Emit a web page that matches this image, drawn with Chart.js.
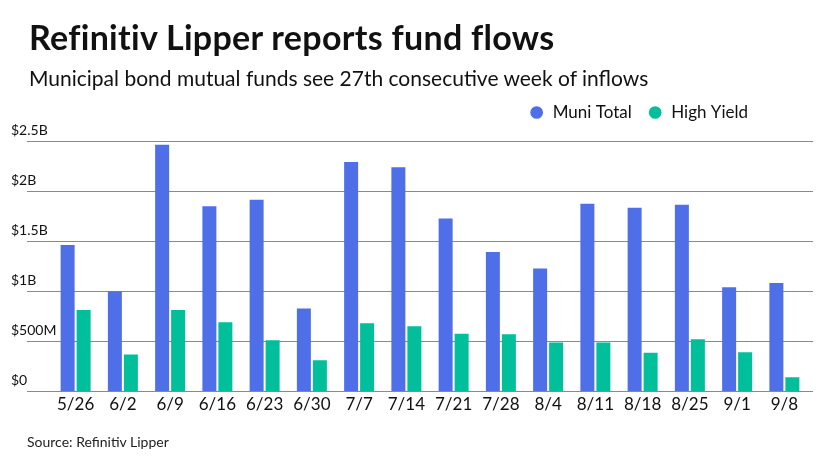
<!DOCTYPE html>
<html>
<head>
<meta charset="utf-8">
<script src="https://cdn.jsdelivr.net/npm/chart.js@4"></script>
<style>
  html, body { margin: 0; padding: 0; background: #fff; }
  #wrap { position: relative; width: 840px; height: 472px; font-family: Lato, sans-serif; color: #111; }
  #wrap canvas { position: absolute; left: 0; top: 0; }
  .title { position: absolute; left: 29px; top: 20px; font-size: 34px; font-weight: 700; letter-spacing: 0.3px; line-height: 1; white-space: nowrap; }
  .subtitle { position: absolute; left: 29px; top: 67px; font-size: 21px; line-height: 1; white-space: nowrap; }
  .source { position: absolute; left: 27px; top: 435px; font-size: 14px; line-height: 1; color: #222; white-space: nowrap; }
</style>
</head>
<body>
<div id="wrap">
  <canvas id="myChart" width="840" height="472"></canvas>
  <div class="title">Refinitiv Lipper reports fund flows</div>
  <div class="subtitle">Municipal bond mutual funds see 27th consecutive week of inflows</div>
  <div class="source">Source: Refinitiv Lipper</div>
</div>
<script>
  // weekly flows, millions of dollars
  const weeks = ['5/26', '6/2', '6/9', '6/16', '6/23', '6/30', '7/7', '7/14',
    '7/21', '7/28', '8/4', '8/11', '8/18', '8/25', '9/1', '9/8'];
  const muniTotal = [1463, 1000, 2463, 1850, 1913, 830, 2290, 2237,
    1727, 1393, 1227, 1873, 1833, 1863, 1040, 1083];
  const highYield = [813, 370, 813, 693, 513, 313, 683, 653,
    577, 573, 490, 490, 387, 523, 393, 143];
  const yTicks = [0, 500, 1000, 1500, 2000, 2500];
  const yLabels = ['$0', '$500M', '$1B', '$1.5B', '$2B', '$2.5B'];

  const gridColor = '#8a8a8a';
  const yAxisWidth = 41;

  const fixedTicks = (scale) => { scale.ticks = yTicks.map(v => ({ value: v })); };

  // legend sits left of the plot's right edge in the original
  const legendShift = {
    id: 'legendShift',
    afterLayout(chart) {
      chart.legend.right -= 49;
    }
  };

  const data = {
    labels: weeks,
    datasets: [{
      label: 'Muni Total',
      data: muniTotal,
      backgroundColor: '#4f6fe8'
    }, {
      label: 'High Yield',
      data: highYield,
      backgroundColor: '#00bf9a'
    }]
  };

  const config = {
    type: 'bar',
    data: data,
    plugins: [legendShift],
    options: {
      responsive: false,
      animation: false,
      datasets: {
        bar: {
          categoryPercentage: 0.677,
          barPercentage: 0.875
        }
      },
      layout: {
        padding: { top: 88, left: 11, right: 27, bottom: 54 }
      },
      plugins: {
        legend: {
          align: 'end',
          labels: {
            usePointStyle: true,
            pointStyle: 'circle',
            boxWidth: 15,
            boxHeight: 9,
            padding: 16,
            color: '#111',
            font: { family: 'Lato', size: 17 }
          }
        },
        tooltip: { enabled: false }
      },
      scales: {
        x: {
          grid: { display: false, drawTicks: false },
          border: { display: false },
          ticks: {
            color: '#111',
            padding: 3,
            font: { family: 'Lato', size: 17 }
          }
        },
        // empty top axis, only keeps a gap under the legend
        xTop: {
          position: 'top',
          grid: { drawOnChartArea: false, tickLength: 10, color: 'rgba(0,0,0,0)' },
          border: { display: false },
          ticks: { display: false }
        },
        y: {
          min: 0,
          max: 2500,
          afterBuildTicks: fixedTicks,
          afterFit: (scale) => { scale.width = yAxisWidth; },
          border: { display: false },
          grid: { color: gridColor, lineWidth: 1, tickLength: 25 },
          ticks: {
            // mirrored so the labels are not clipped to the narrow axis box,
            // then pulled back left to sit above the gridline ends
            mirror: true,
            crossAlign: 'near',
            padding: -yAxisWidth,
            z: 1,
            labelOffset: -11,
            color: '#111',
            font: { family: 'Lato', size: 14 },
            callback: (v) => yLabels[yTicks.indexOf(v)]
          }
        },
        y2: {
          position: 'right',
          min: 0,
          max: 2500,
          afterBuildTicks: fixedTicks,
          border: { display: false },
          grid: { color: gridColor, drawOnChartArea: false, tickLength: 5 },
          ticks: { display: false }
        }
      }
    }
  };

  const myChart = new Chart(document.getElementById('myChart'), config);
</script>
</body>
</html>
